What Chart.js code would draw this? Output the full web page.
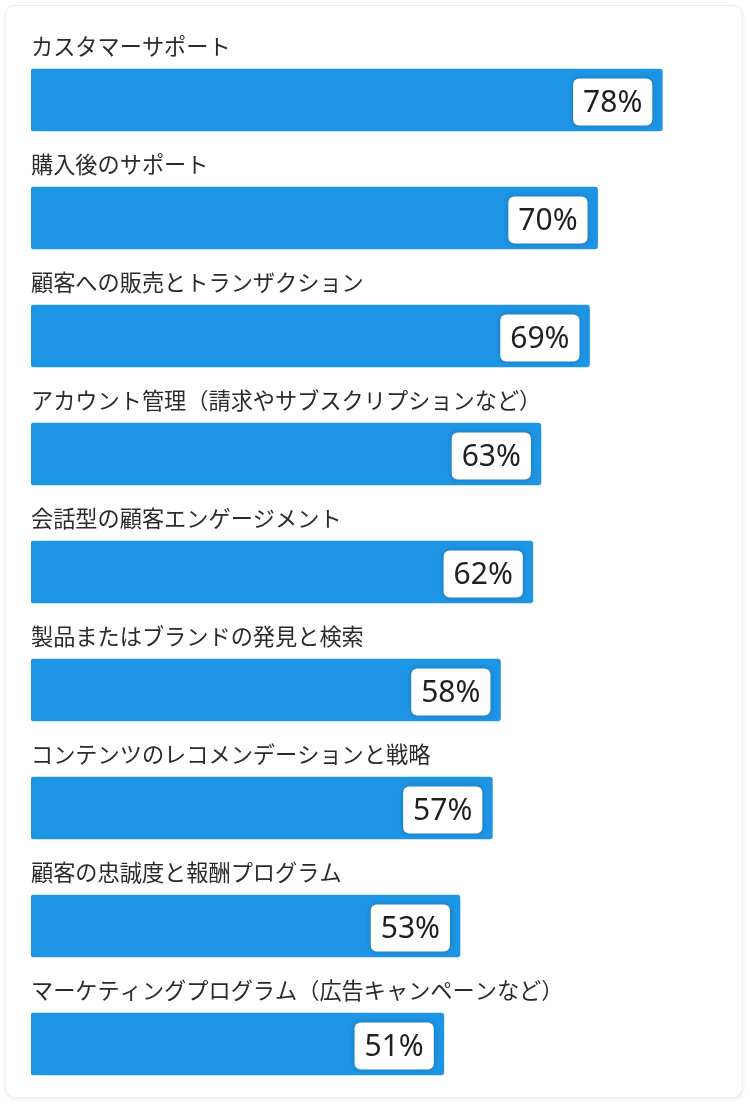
<!DOCTYPE html>
<html lang="ja">

<head>
    <meta charset="UTF-8">
    <title>取り組み領域</title>
    <style>
        body {
            margin: 0;
            background-color: #fff;
        }

        #card {
            position: absolute;
            left: 5px;
            top: 5px;
            width: 736px;
            height: 1091px;
            border: 1px solid #ececec;
            border-radius: 10px;
            box-shadow: 0 1px 4px rgba(0, 0, 0, 0.07);
            background: #fff;
        }

        #wrap {
            position: absolute;
            left: 0;
            top: 0;
            width: 750px;
            height: 1108px;
        }
    </style>
    <script src="https://cdn.jsdelivr.net/npm/chart.js"></script>
</head>

<body>
    <div id="card"></div>
    <div id="wrap"><canvas id="chart"></canvas></div>

    <script>
        const categories = [
            'カスタマーサポート',
            '購入後のサポート',
            '顧客への販売とトランザクション',
            'アカウント管理（請求やサブスクリプションなど）',
            '会話型の顧客エンゲージメント',
            '製品またはブランドの発見と検索',
            'コンテンツのレコメンデーションと戦略',
            '顧客の忠誠度と報酬プログラム',
            'マーケティングプログラム（広告キャンペーンなど）'
        ];
        const values = [78, 70, 69, 63, 62, 58, 57, 53, 51];

        const barColor = '#1e94e4';
        const textColor = '#2b2b2b';

        // draws the category name above each bar and the value badge at its end
        const labelPlugin = {
            id: 'barLabels',
            afterDatasetsDraw(chart) {
                const ctx = chart.ctx;
                const meta = chart.getDatasetMeta(0);
                const left = chart.chartArea.left;
                ctx.save();
                meta.data.forEach((bar, i) => {
                    // category text
                    ctx.font = '22.2px "Noto Sans CJK JP", sans-serif';
                    ctx.fillStyle = textColor;
                    ctx.textAlign = 'left';
                    ctx.textBaseline = 'middle';
                    ctx.fillText(categories[i], left, bar.y - 53);

                    // value badge
                    const txt = values[i] + '%';
                    ctx.font = '30px "Noto Sans", sans-serif';
                    const w = ctx.measureText(txt).width + 20;
                    const h = 47;
                    const x = bar.x - 10 - w;
                    const y = bar.y + 2 - h / 2;
                    ctx.save();
                    ctx.shadowColor = 'rgba(0, 0, 0, 0.25)';
                    ctx.shadowBlur = 4;
                    ctx.fillStyle = '#fff';
                    ctx.beginPath();
                    ctx.roundRect(x, y, w, h, 6);
                    ctx.fill();
                    ctx.restore();
                    ctx.fillStyle = '#1f1f1f';
                    ctx.textAlign = 'center';
                    ctx.textBaseline = 'middle';
                    ctx.fillText(txt, x + w / 2, y + h / 2 + 1);
                });
                ctx.restore();
            }
        };

        new Chart(document.getElementById('chart'), {
            type: 'bar',
            data: {
                labels: categories,
                datasets: [{
                    data: values,
                    backgroundColor: barColor,
                    borderRadius: 3,
                    borderSkipped: false,
                    barThickness: 62
                }]
            },
            options: {
                indexAxis: 'y',
                responsive: true,
                maintainAspectRatio: false,
                animation: false,
                layout: {
                    padding: { left: 31, right: 31, top: 41, bottom: 5 }
                },
                scales: {
                    x: { display: false, min: 0, max: 85 },
                    y: { display: false }
                },
                plugins: {
                    legend: { display: false },
                    tooltip: { enabled: false }
                }
            },
            plugins: [labelPlugin]
        });
    </script>
</body>

</html>
